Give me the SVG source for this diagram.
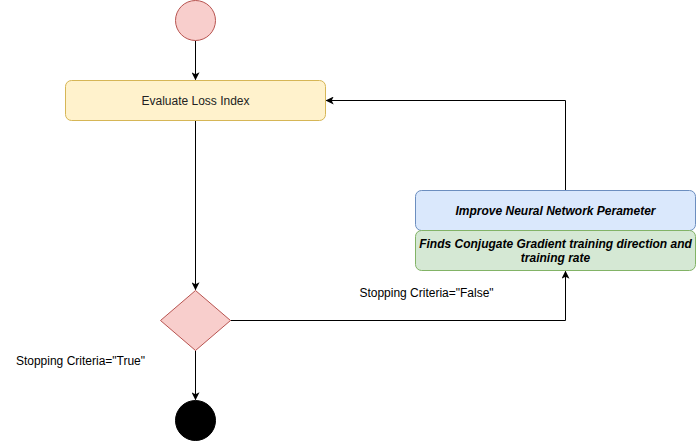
<svg xmlns="http://www.w3.org/2000/svg" width="696" height="441" viewBox="0 0 696 441">
<style>
text{font-family:"Liberation Sans",Arial,sans-serif;font-size:12px;fill:#000}
.c{text-anchor:middle}
.bi{font-weight:bold;font-style:italic}
.e{fill:none;stroke:#000;stroke-width:1}
</style>
<defs>
<marker id="a" viewBox="0 0 10 10" refX="9" refY="5" markerWidth="8" markerHeight="8" markerUnits="userSpaceOnUse" orient="auto">
<path d="M0,0 L10,5 L0,10 L2.5,5 Z" fill="#000"/>
</marker>
</defs>
<rect width="696" height="441" fill="#fff"/>
<g id="connectors">
<path class="e" d="M195.5,40.5 V79.5" marker-end="url(#a)"/>
<path class="e" d="M195.5,120.5 V289.5" marker-end="url(#a)"/>
<path class="e" d="M195.5,350.5 V399.5" marker-end="url(#a)"/>
<path class="e" d="M230.5,320.5 H565.5 V271.5" marker-end="url(#a)"/>
<path class="e" d="M565.5,190.5 V100.5 H326.5" marker-end="url(#a)"/>
<text x="426.5" y="296.5" class="c">Stopping Criteria="False"</text>
<text x="80.5" y="364.5" class="c">Stopping Criteria="True"</text>
</g>
<g id="start"><circle cx="195.5" cy="20.5" r="20" fill="#f8cecc" stroke="#b85450"/></g>
<g id="evaluate">
<rect x="65.5" y="80.5" width="260" height="40" rx="6" fill="#fff2cc" stroke="#d6b656"/>
<text x="195.5" y="104.5" class="c" style="fill:#222">Evaluate Loss Index</text>
</g>
<g id="decision"><path d="M195.5,290.5 L230.5,320.5 L195.5,350.5 L160.5,320.5 Z" fill="#f8cecc" stroke="#b85450"/></g>
<g id="end"><circle cx="195.5" cy="420.5" r="20" fill="#000" stroke="#000"/></g>
<g id="improve">
<rect x="415.5" y="190.5" width="280" height="40" rx="6" fill="#dae8fc" stroke="#6c8ebf"/>
<text x="555.5" y="214.5" class="c bi">Improve Neural Network Perameter</text>
</g>
<g id="finds">
<rect x="415.5" y="230.5" width="280" height="40" rx="6" fill="#d5e8d4" stroke="#82b366"/>
<text x="555.5" y="247.5" class="c bi">Finds Conjugate Gradient training direction and</text>
<text x="555.5" y="262" class="c bi">training rate</text>
</g>
</svg>
